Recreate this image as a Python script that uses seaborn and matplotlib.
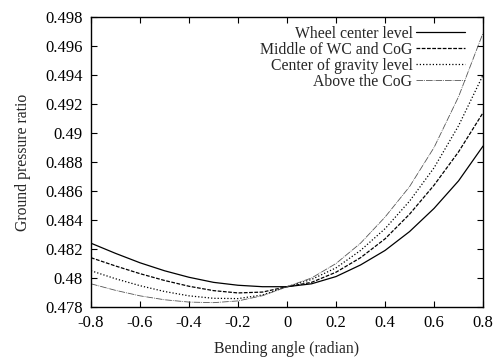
import matplotlib
matplotlib.use("Agg")
import matplotlib.pyplot as plt
import seaborn as sns
import pandas as pd

# Bending angle (radian)
angle = [-0.8, -0.7, -0.6, -0.5, -0.4, -0.3, -0.2, -0.1, 0.0,
         0.1, 0.2, 0.3, 0.4, 0.5, 0.6, 0.7, 0.8]

# Ground pressure ratio for each articulation height
wheel_center = [0.4824, 0.4817, 0.48105, 0.4805, 0.48005, 0.4797, 0.4795, 0.4794, 0.4794,
                0.4796, 0.4801, 0.4809, 0.4819, 0.4832, 0.4848, 0.4867, 0.4891]
middle_wc_cog = [0.4814, 0.48083, 0.4803, 0.47983, 0.47943, 0.47913, 0.47897, 0.47903, 0.4794,
                 0.4797, 0.4804, 0.4814, 0.4827, 0.4844, 0.4864, 0.4887, 0.4914]
cog_level = [0.4805, 0.47995, 0.47947, 0.47907, 0.47877, 0.4786, 0.47858, 0.47883, 0.4794,
             0.4799, 0.4807, 0.4819, 0.4834, 0.4853, 0.4876, 0.4905, 0.4940]
above_cog = [0.4796, 0.47915, 0.47877, 0.4785, 0.47834, 0.4783, 0.47842, 0.47878, 0.4794,
             0.4800, 0.4810, 0.4824, 0.4842, 0.4863, 0.4890, 0.4925, 0.4969]

series_names = ["Wheel center level", "Middle of WC and CoG",
                "Center of gravity level", "Above the CoG"]

x_ticks = [-0.8, -0.6, -0.4, -0.2, 0.0, 0.2, 0.4, 0.6, 0.8]
x_tick_labels = ["-0.8", "-0.6", "-0.4", "-0.2", "0", "0.2", "0.4", "0.6", "0.8"]
y_ticks = [0.478, 0.480, 0.482, 0.484, 0.486, 0.488, 0.490, 0.492, 0.494, 0.496, 0.498]
y_tick_labels = ["0.478", "0.48", "0.482", "0.484", "0.486", "0.488",
                 "0.49", "0.492", "0.494", "0.496", "0.498"]

df = pd.DataFrame({
    "angle": angle * 4,
    "ratio": wheel_center + middle_wc_cog + cog_level + above_cog,
    "level": [n for n in series_names for _ in angle],
})

sns.set_theme(style="ticks")
plt.rcParams["font.family"] = ["Liberation Serif", "DejaVu Serif"]
plt.rcParams["font.size"] = 11.3

fig = plt.figure(figsize=(4.98, 3.6), dpi=100)
ax = fig.add_axes([0.1827, 0.1472, 0.7873, 0.8056])

line_styles = {
    "Wheel center level": dict(color="black", linestyle="-", linewidth=0.9),
    "Middle of WC and CoG": dict(color="black", linestyle=(0, (3.0, 1.2)), linewidth=0.9),
    "Center of gravity level": dict(color="black", linestyle=(0, (1.0, 1.6)), linewidth=0.9),
    "Above the CoG": dict(color="#555555", linestyle=(0, (8, 1.2, 1, 1.2)), linewidth=0.6),
}

for name in series_names:
    sub = df[df["level"] == name]
    sns.lineplot(data=sub, x="angle", y="ratio", ax=ax, label=name,
                 **line_styles[name])

ax.set_xlim(-0.8, 0.8)
ax.set_ylim(0.478, 0.498)
ax.set_xticks(x_ticks)
ax.set_xticklabels(x_tick_labels)
ax.set_yticks(y_ticks)
ax.set_yticklabels(y_tick_labels)
ax.tick_params(direction="in", length=4, width=0.8, top=True, right=True,
               labelsize=12, pad=6, colors="black")
for spine in ax.spines.values():
    spine.set_visible(True)
    spine.set_linewidth(1.0)
    spine.set_color("black")

ax.set_xlabel("Bending angle (radian)", fontsize=11.3, labelpad=7)
ax.set_ylabel("Ground pressure ratio", fontsize=11.3, labelpad=10)

leg = ax.legend(loc="upper right", bbox_to_anchor=(0.982, 1.008), frameon=False,
                markerfirst=False, handlelength=3.1, handletextpad=0.25,
                labelspacing=0.0, fontsize=11.3, borderaxespad=0.3)
for t in leg.get_texts():
    t.set_ha("right")
leg._legend_box.align = "right"

fig.savefig("out.png", dpi=100)
